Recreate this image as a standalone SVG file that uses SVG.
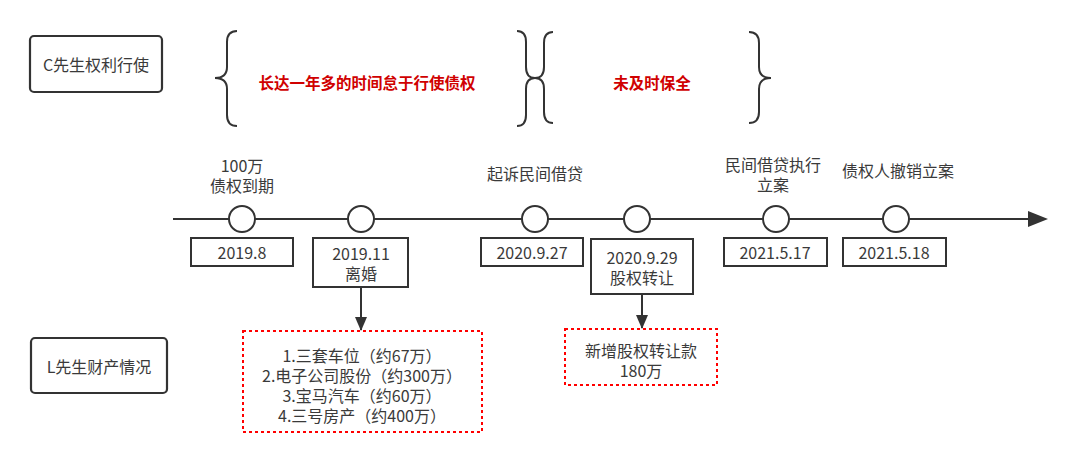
<svg xmlns="http://www.w3.org/2000/svg" width="1080" height="464" viewBox="0 0 1080 464">
<defs>
<marker id="ah" markerWidth="14" markerHeight="14" refX="13" refY="6" orient="auto" markerUnits="userSpaceOnUse" viewBox="0 0 14 12">
<path d="M0,0 L14,6 L0,12 Z" fill="#333"/>
</marker>
</defs>
<style>
text{font-family:"Noto Sans CJK SC","Liberation Sans",sans-serif;font-size:16px;fill:#3a3a3a;text-anchor:middle;dominant-baseline:central}
.red{fill:#d00000;font-weight:bold;font-size:15.5px}
.box{fill:#fff;stroke:#333;stroke-width:2}
.side{fill:#fff;stroke:#333;stroke-width:2.2}
.circ{fill:#fff;stroke:#333;stroke-width:2}
.dash{fill:#fff;stroke:#ff0000;stroke-width:2;stroke-dasharray:3 3}
.brace{fill:none;stroke:#333;stroke-width:2}
.ln{fill:none;stroke:#333;stroke-width:2}
</style>
<rect width="1080" height="464" fill="#fff"/>
<g id="connectors">
<line class="ln" x1="173" y1="219" x2="1030" y2="219"/>
<path d="M1028,211 L1048,219 L1028,227 Z" fill="#333"/>
<line class="ln" x1="361" y1="287" x2="361" y2="330" marker-end="url(#ah)"/>
<line class="ln" x1="642" y1="294" x2="642" y2="328" marker-end="url(#ah)"/>
</g>
<g id="braces">
<path class="brace" d="M237,31 Q227,31 227,42 L227,67 Q227,78 215,78 Q227,78 227,89 L227,115 Q227,126 237,126"/>
<path class="brace" d="M517,31 Q526,31 526,42 L526,67 Q526,78 535,78 Q526,78 526,89 L526,115 Q526,126 517,126"/>
<path class="brace" d="M553,32 Q544,32 544,43 L544,67 Q544,78 535,78 Q544,78 544,89 L544,112 Q544,123 553,123"/>
<path class="brace" d="M749,32 Q759,32 759,43 L759,67 Q759,78 771,78 Q759,78 759,89 L759,112 Q759,123 749,123"/>
<text class="red" x="367" y="82">长达一年多的时间怠于行使债权</text>
<text class="red" x="652" y="82">未及时保全</text>
</g>
<g id="c-rights">
<rect class="side" x="30" y="36" width="132" height="56" rx="4"/>
<text x="96" y="64">C先生权利行使</text>
</g>
<g id="l-property">
<rect class="side" x="31" y="338" width="136" height="55" rx="4"/>
<text x="99" y="366">L先生财产情况</text>
</g>
<g id="e1">
<text x="242" y="165">100万</text>
<text x="242" y="185">债权到期</text>
<circle class="circ" cx="242" cy="219" r="13"/>
<rect class="box" x="191" y="238" width="102" height="28"/>
<text x="242" y="252">2019.8</text>
</g>
<g id="e2">
<circle class="circ" cx="361" cy="219" r="13"/>
<rect class="box" x="313" y="238" width="95" height="49"/>
<text x="361" y="253">2019.11</text>
<text x="361" y="273">离婚</text>
</g>
<g id="e3">
<text x="535" y="173">起诉民间借贷</text>
<circle class="circ" cx="535" cy="219" r="13"/>
<rect class="box" x="481" y="238" width="102" height="28"/>
<text x="532" y="252">2020.9.27</text>
</g>
<g id="e4">
<circle class="circ" cx="637" cy="219" r="13"/>
<rect class="box" x="591" y="239" width="102" height="55"/>
<text x="642" y="257">2020.9.29</text>
<text x="642" y="277">股权转让</text>
</g>
<g id="e5">
<text x="773" y="164">民间借贷执行</text>
<text x="773" y="184">立案</text>
<circle class="circ" cx="776" cy="219" r="13"/>
<rect class="box" x="724" y="238" width="103" height="28"/>
<text x="775" y="252">2021.5.17</text>
</g>
<g id="e6">
<text x="898" y="170">债权人撤销立案</text>
<circle class="circ" cx="896" cy="219" r="13"/>
<rect class="box" x="843" y="238" width="103" height="28"/>
<text x="894" y="252">2021.5.18</text>
</g>
<g id="assets">
<rect class="dash" x="243" y="331" width="239" height="101"/>
<text x="362" y="355">1.三套车位（约67万）</text>
<text x="362" y="375">2.电子公司股份（约300万）</text>
<text x="362" y="395">3.宝马汽车（约60万）</text>
<text x="362" y="415">4.三号房产（约400万）</text>
</g>
<g id="transfer">
<rect class="dash" x="565" y="329" width="152" height="56"/>
<text x="641" y="350">新增股权转让款</text>
<text x="641" y="370">180万</text>
</g>
</svg>
